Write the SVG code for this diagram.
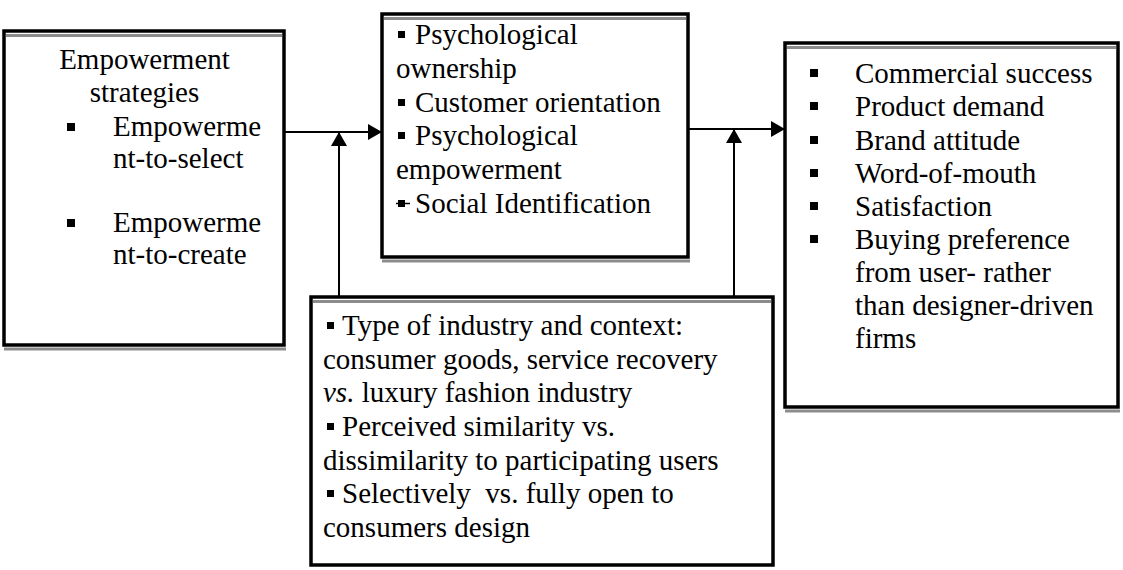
<svg xmlns="http://www.w3.org/2000/svg" width="1123" height="570" viewBox="0 0 1123 570" font-family="serif">
<defs>
<marker id="ah" markerUnits="userSpaceOnUse" markerWidth="14" markerHeight="16" refX="14" refY="8" orient="auto">
<polygon points="0,0 14,8 0,16" fill="#000"/>
</marker>
</defs>
<rect width="1123" height="570" fill="#fff"/>

<g id="connectors" fill="none" stroke="#000" stroke-width="2">
<line x1="285" y1="132" x2="382" y2="132" marker-end="url(#ah)"/>
<line x1="339" y1="296" x2="339" y2="132" marker-end="url(#ah)"/>
<line x1="688" y1="129" x2="785" y2="129" marker-end="url(#ah)"/>
<line x1="734" y1="296" x2="734" y2="129" marker-end="url(#ah)"/>
</g>

<g id="strategies">
<rect x="4" y="31" width="280" height="314" fill="#fff" stroke="#000" stroke-width="3.5"/>
<line x1="6" y1="35.5" x2="282" y2="35.5" stroke="#8c8c8c" stroke-width="3"/>
<line x1="4" y1="349" x2="286" y2="349" stroke="#8c8c8c" stroke-width="3"/>
<rect x="67" y="123" width="8" height="8" fill="#000"/>
<rect x="67" y="219" width="8" height="8" fill="#000"/>
<text font-family="serif" font-size="29" x="144.5" y="69" text-anchor="middle">Empowerment</text>
<text font-family="serif" font-size="29" x="144.5" y="102" text-anchor="middle">strategies</text>
<text font-family="serif" font-size="29" x="113" y="136">Empowerme</text>
<text font-family="serif" font-size="29" x="113" y="168">nt-to-select</text>
<text font-family="serif" font-size="29" x="113" y="232">Empowerme</text>
<text font-family="serif" font-size="29" x="113" y="264">nt-to-create</text>
</g>

<g id="mediators">
<rect x="382" y="14" width="306" height="243" fill="#fff" stroke="#000" stroke-width="3.5"/>
<line x1="384" y1="18.5" x2="686" y2="18.5" stroke="#8c8c8c" stroke-width="3"/>
<line x1="382" y1="261" x2="690" y2="261" stroke="#8c8c8c" stroke-width="3"/>
<rect x="398" y="31" width="7" height="7" fill="#000"/>
<rect x="398" y="99" width="7" height="7" fill="#000"/>
<rect x="398" y="132" width="7" height="7" fill="#000"/>
<rect x="398" y="200" width="7" height="7" fill="#000"/>
<line x1="396" y1="203.5" x2="410" y2="203.5" stroke="#000" stroke-width="1.5"/>
<text font-family="serif" font-size="29" x="415" y="44">Psychological</text>
<text font-family="serif" font-size="29" x="396" y="78">ownership</text>
<text font-family="serif" font-size="29" x="415" y="112">Customer orientation</text>
<text font-family="serif" font-size="29" x="415" y="145">Psychological</text>
<text font-family="serif" font-size="29" x="396" y="179">empowerment</text>
<text font-family="serif" font-size="29" x="415" y="213">Social Identification</text>
</g>

<g id="outcomes">
<rect x="785" y="43" width="333" height="364" fill="#fff" stroke="#000" stroke-width="3.5"/>
<line x1="787" y1="47.5" x2="1116" y2="47.5" stroke="#8c8c8c" stroke-width="3"/>
<line x1="785" y1="411" x2="1120" y2="411" stroke="#8c8c8c" stroke-width="3"/>
<rect x="810" y="69" width="8" height="8" fill="#000"/>
<rect x="810" y="102" width="8" height="8" fill="#000"/>
<rect x="810" y="136" width="8" height="8" fill="#000"/>
<rect x="810" y="169" width="8" height="8" fill="#000"/>
<rect x="810" y="202" width="8" height="8" fill="#000"/>
<rect x="810" y="235" width="8" height="8" fill="#000"/>
<text font-family="serif" font-size="29" x="855" y="83">Commercial success</text>
<text font-family="serif" font-size="29" x="855" y="116">Product demand</text>
<text font-family="serif" font-size="29" x="855" y="150">Brand attitude</text>
<text font-family="serif" font-size="29" x="855" y="183">Word-of-mouth</text>
<text font-family="serif" font-size="29" x="855" y="216">Satisfaction</text>
<text font-family="serif" font-size="29" x="855" y="249">Buying preference</text>
<text font-family="serif" font-size="29" x="855" y="282">from user- rather</text>
<text font-family="serif" font-size="29" x="855" y="315">than designer-driven</text>
<text font-family="serif" font-size="29" x="855" y="348">firms</text>
</g>

<g id="moderators">
<rect x="311" y="297" width="462" height="268" fill="#fff" stroke="#000" stroke-width="3.5"/>
<line x1="313" y1="301.5" x2="771" y2="301.5" stroke="#8c8c8c" stroke-width="3"/>
<rect x="327" y="322" width="7" height="7" fill="#000"/>
<rect x="327" y="423" width="7" height="7" fill="#000"/>
<rect x="327" y="490" width="7" height="7" fill="#000"/>
<text font-family="serif" font-size="29" x="342" y="335">Type of industry and context:</text>
<text font-family="serif" font-size="29" x="323" y="369">consumer goods, service recovery</text>
<text font-family="serif" font-size="29" x="323" y="402"><tspan font-style="italic">vs.</tspan> luxury fashion industry</text>
<text font-family="serif" font-size="29" x="342" y="436">Perceived similarity vs.</text>
<text font-family="serif" font-size="29" x="323" y="470">dissimilarity to participating users</text>
<text font-family="serif" font-size="29" x="342" y="503" xml:space="preserve">Selectively  vs. fully open to</text>
<text font-family="serif" font-size="29" x="323" y="537">consumers design</text>
</g>
</svg>
